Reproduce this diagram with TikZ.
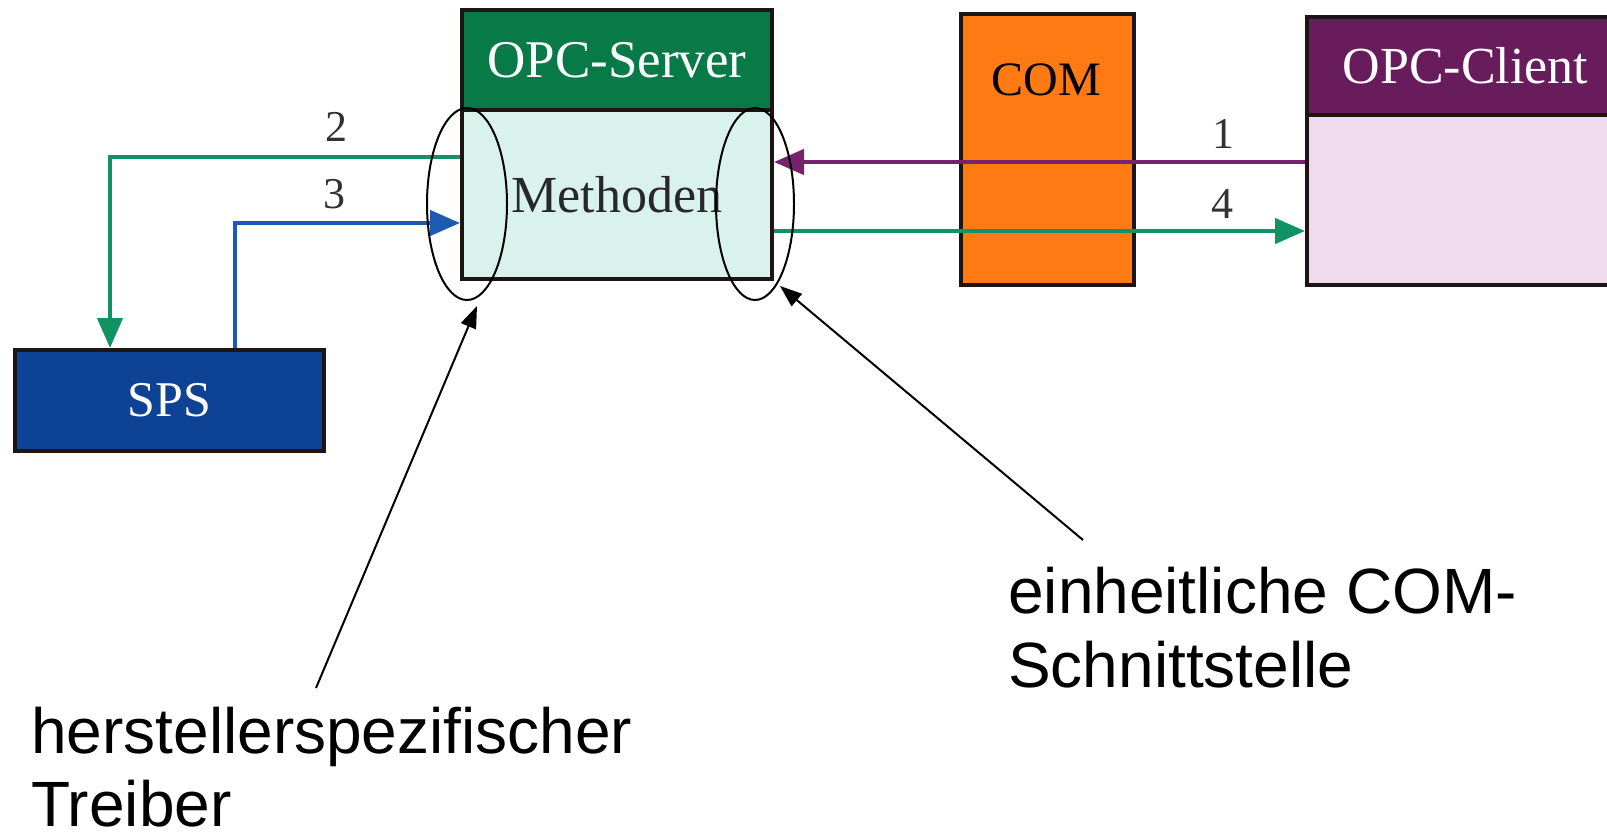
\documentclass[tikz,border=0pt]{standalone}
\usepackage{fontspec}
\setmainfont{Liberation Serif}
\newfontfamily\arialfont{Liberation Sans}
\usetikzlibrary{arrows.meta,shapes.geometric}
\definecolor{srvgreen}{RGB}{8,122,72}
\definecolor{srvfill}{RGB}{218,242,236}
\definecolor{comorange}{RGB}{255,122,18}
\definecolor{clpurple}{RGB}{104,28,92}
\definecolor{clfill}{RGB}{240,218,236}
\definecolor{spsblue}{RGB}{14,66,148}
\definecolor{lngreen}{RGB}{16,146,98}
\definecolor{lnblue}{RGB}{30,90,176}
\definecolor{lnpurple}{RGB}{120,34,110}
\definecolor{frame}{RGB}{30,20,20}
\definecolor{numgray}{RGB}{50,50,50}
\begin{document}
\begin{tikzpicture}[x=1pt,y=-1pt,
  box/.style={draw=frame,line width=4pt,inner sep=0pt,anchor=north west},
  serif/.style={font=\fontsize{52}{60}\selectfont},
  num/.style={font=\fontsize{44}{50}\selectfont,text=numgray,anchor=base,inner sep=0pt},
  conn/.style={line width=4.5pt,-{Triangle[length=30pt,width=25pt]}},
  ring/.style={draw=black,line width=2pt,ellipse,inner sep=0pt},
  note/.style={line width=2pt,-{Triangle[length=22pt,width=16pt]}},
  caption/.style={font=\arialfont\fontsize{64}{74}\selectfont,anchor=base west,inner sep=0pt}]
\useasboundingbox (0,0) rectangle (1607,838);
\clip (0,0) rectangle (1607,838);
% OPC-Server
\node[box,fill=srvfill,minimum width=310,minimum height=169,serif,text={rgb,255:red,40;green,40;blue,40}] (srvbody) at (460,108) {Methoden};
\node[box,fill=srvgreen,minimum width=310,minimum height=100,serif,font=\fontsize{53}{60}\selectfont,text=white] (srvhead) at (460,8) {OPC-Server};
% COM
\node[box,fill=comorange,minimum width=173,minimum height=271] (com) at (959,12) {};
\node[font=\fontsize{48}{56}\selectfont,anchor=base,inner sep=0pt] (comtext) at (1046,95) {COM};
% OPC-Client
\node[box,fill=clfill,minimum width=317,minimum height=170] (clbody) at (1305,113) {};
\node[box,fill=clpurple,minimum width=317,minimum height=98,serif,text=white] (clhead) at (1305,15) {OPC-Client};
% SPS
\node[box,fill=spsblue,minimum width=309,minimum height=101,font=\fontsize{50}{56}\selectfont,text=white] (sps) at (13,348) {SPS};
% connectors
\draw[conn,color=lngreen] (srvbody.west |- 0,157) -| (sps.north -| 110,0);
\draw[conn,color=lnblue] (sps.north -| 235,0) |- (srvbody.west |- 0,223);
\draw[conn,color=lnpurple] (clbody.west |- 0,162) -- (srvbody.east |- 0,162);
\draw[conn,color=lngreen] (srvbody.east |- 0,231) -- (clbody.west |- 0,231);
\node[num] (n2) at (336,141) {2};
\node[num] (n3) at (334,208) {3};
\node[num] (n1) at (1223,148) {1};
\node[num] (n4) at (1222,218) {4};
% interface rings
\node[ring,minimum width=80,minimum height=192] (ell1) at (467,204) {};
\node[ring,minimum width=78,minimum height=192] (ell2) at (755,204) {};
% annotations
\node[caption] (cap1a) at (31,753) {herstellerspezifischer};
\node[caption] (cap1b) at (31,826) {Treiber};
\node[caption] (cap2a) at (1008,613) {einheitliche COM-};
\node[caption] (cap2b) at (1008,687) {Schnittstelle};
\coordinate (t1) at (316,688);
\coordinate (h1) at (477,306);
\coordinate (t2) at (1083,540);
\coordinate (h2) at (780,286);
\draw[note] (t1) -- (h1);
\draw[note] (t2) -- (h2);
\end{tikzpicture}
\end{document}
